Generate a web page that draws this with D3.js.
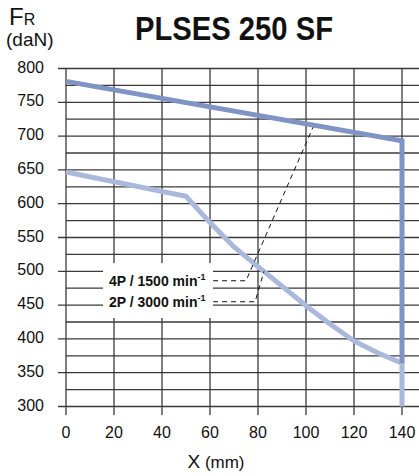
<!DOCTYPE html>
<html><head><meta charset="utf-8">
<script src="https://cdn.jsdelivr.net/npm/d3@7"></script>
<style>body{margin:0;background:#fff}svg{display:block}text{font-family:"Liberation Sans",Arial,sans-serif}</style>
</head><body><svg id="c" width="419" height="476"></svg>
<script>
const title = "PLSES 250 SF";
const xTicks = [0, 20, 40, 60, 80, 100, 120, 140];
const yTicks = [300, 350, 400, 450, 500, 550, 600, 650, 700, 750, 800];
const yGrid = d3.range(300, 801, 25);
// 4P / 1500 min-1 (upper curve)
const x4P = [0, 140, 140];
const fr4P = [781, 693, 364];
// 2P / 3000 min-1 (lower curve)
const x2P = [0, 50, 60, 70, 80, 90, 100, 110, 120, 130, 140, 140];
const fr2P = [647, 611, 572, 536, 507, 478, 449, 422, 397, 379, 364, 300];
const labels = ["4P / 1500 min", "2P / 3000 min"];
// leader lines: label anchor -> elbow -> curve point (data coords)
const lead4P = [[61.3, 486], [75, 486], [102.9, 713]];
const lead2P = [[61.3, 455], [78.8, 455], [82.5, 500]];

const svg = d3.select("#c");
const x = d3.scaleLinear().domain([0, 140]).range([66, 402]);
const y = d3.scaleLinear().domain([300, 800]).range([406.5, 68.5]);
const gridC = "#3a3a3a";

// horizontal grid
svg.append("g").selectAll("line").data(yGrid).join("line")
  .attr("x1", d => d % 50 === 0 ? 58 : 66).attr("x2", 419)
  .attr("y1", d => y(d)).attr("y2", d => y(d))
  .attr("stroke", gridC).attr("stroke-width", 1.3);
// vertical grid
svg.append("g").selectAll("line").data(xTicks).join("line")
  .attr("x1", d => x(d)).attr("x2", d => x(d))
  .attr("y1", y(800)).attr("y2", 415)
  .attr("stroke", gridC).attr("stroke-width", 1.3);

// white box behind legend labels
svg.append("rect").attr("x", 103).attr("y", 263).attr("width", 110).attr("height", 55).attr("fill", "#fff");

// y tick labels
svg.append("g").selectAll("text").data(yTicks).join("text")
  .attr("x", 44).attr("y", d => y(d) + 4).attr("text-anchor", "end")
  .attr("font-size", 16).attr("fill", "#111").text(d => d);
// x tick labels
svg.append("g").selectAll("text").data(xTicks).join("text")
  .attr("x", d => x(d)).attr("y", 438).attr("text-anchor", "middle")
  .attr("font-size", 16).attr("fill", "#111").text(d => d);

// curves
const line = d3.line().x(d => x(d[0])).y(d => y(d[1]));
svg.append("path").datum(x2P.map((v, i) => [v, fr2P[i]])).attr("d", line)
  .attr("fill", "none").attr("stroke", "#aab8dc").attr("stroke-width", 5).attr("stroke-linejoin", "miter");
svg.append("path").datum(x4P.map((v, i) => [v, fr4P[i]])).attr("d", line)
  .attr("fill", "none").attr("stroke", "#7f93c4").attr("stroke-width", 5).attr("stroke-linejoin", "miter");

// leaders
[lead4P, lead2P].forEach(l => {
  svg.append("path").datum(l).attr("d", line).attr("fill", "none")
    .attr("stroke", "#111").attr("stroke-width", 1).attr("stroke-dasharray", "5,4");
});

// legend labels
labels.forEach((t, i) => {
  const tx = svg.append("text").attr("x", 109).attr("y", (i === 0 ? y(lead4P[0][1]) : y(lead2P[0][1])) + 5)
    .attr("font-size", 14).attr("font-weight", "bold").attr("fill", "#111");
  tx.append("tspan").text(t);
  tx.append("tspan").attr("font-size", 9).attr("dy", -6).text("-1");
});

// title
svg.append("text").attr("x", 135).attr("y", 40).attr("font-size", 33).attr("font-weight", "bold")
  .attr("textLength", 198).attr("lengthAdjust", "spacingAndGlyphs").attr("fill", "#111").text(title);

// y axis label
const fr = svg.append("text").attr("x", 9).attr("y", 25).attr("fill", "#111");
fr.append("tspan").attr("font-size", 24).text("F");
fr.append("tspan").attr("font-size", 16).text("R");
svg.append("text").attr("x", 6).attr("y", 46).attr("font-size", 19).attr("fill", "#111").text("(daN)");

// x axis label
const xl = svg.append("text").attr("x", 216).attr("y", 468).attr("text-anchor", "middle").attr("fill", "#111");
xl.append("tspan").attr("font-size", 19).text("X");
xl.append("tspan").attr("font-size", 17).text(" (mm)");
</script></body></html>
